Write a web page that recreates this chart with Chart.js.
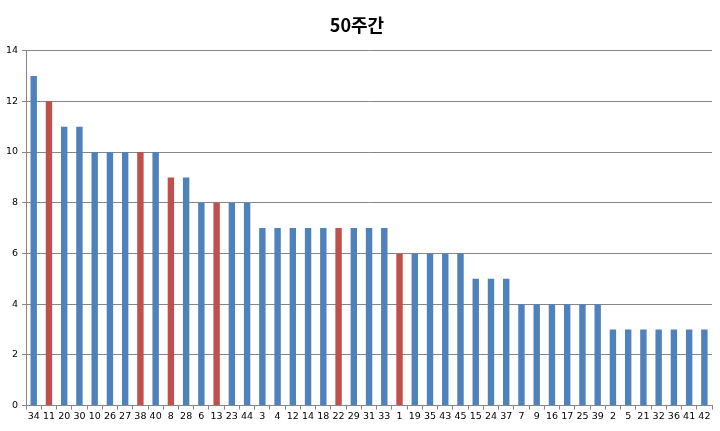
<!DOCTYPE html>
<html>
<head>
<meta charset="utf-8">
<script src="https://cdn.jsdelivr.net/npm/chart.js@4/dist/chart.umd.min.js"></script>
<style>
html,body{margin:0;padding:0;background:#fff;}
#wrap{width:720px;height:431px;}
</style>
</head>
<body>
<div id="wrap"><canvas id="chart" width="720" height="431"></canvas></div>
<script>
// numbers drawn, sorted by count
const numbers = [34,11,20,30,10,26,27,38,40,8,28,6,13,23,44,3,4,12,14,18,22,29,31,33,1,19,35,43,45,15,24,37,7,9,16,17,25,39,2,5,21,32,36,41,42];
const counts  = [13,12,11,11,10,10,10,10,10,9,9,8,8,8,8,7,7,7,7,7,7,7,7,7,6,6,6,6,6,5,5,5,4,4,4,4,4,4,3,3,3,3,3,3,3];
// numbers shown in red
const highlighted = [11,38,8,13,22,1];
const yTicks = [0,2,4,6,8,10,12,14];

const blue = "#4F81BD";
const red = "#C0504D";
let colors = numbers.map(n => highlighted.includes(n) ? red : blue);

new Chart("chart", {
    type: "bar",
    data: {
        labels: numbers.map(String),
        datasets: [{
            data: counts,
            backgroundColor: colors,
            borderWidth: 0,
            barPercentage: 0.42,
            categoryPercentage: 1.0
        }]
    },
    options: {
        responsive: false,
        animation: false,
        layout: {padding: {left: 2, right: 8, top: 0, bottom: 8}},
        plugins: {
            legend: {display: false},
            tooltip: {enabled: false},
            title: {
                display: true,
                text: "50주간",
                color: "#000",
                font: {family: "'Noto Sans CJK KR'", size: 18, weight: "bold"},
                padding: {top: 14, bottom: 15}
            }
        },
        scales: {
            x: {
                offset: true,
                grid: {display: true, drawOnChartArea: false, offset: true, color: "#868686", tickLength: 4, tickColor: "#868686"},
                border: {color: "#868686"},
                ticks: {color: "#000", font: {family: "'DejaVu Sans'", size: 9.5}, maxRotation: 0, autoSkip: false, padding: 1}
            },
            y: {
                min: 0,
                max: 14,
                afterBuildTicks: axis => { axis.ticks = yTicks.map(v => ({value: v})); },
                grid: {color: "#868686", tickLength: 4, tickColor: "#868686"},
                border: {color: "#868686"},
                ticks: {color: "#000", font: {family: "'DejaVu Sans'", size: 9.5}, padding: 4}
            }
        }
    }
});
</script>
</body>
</html>
